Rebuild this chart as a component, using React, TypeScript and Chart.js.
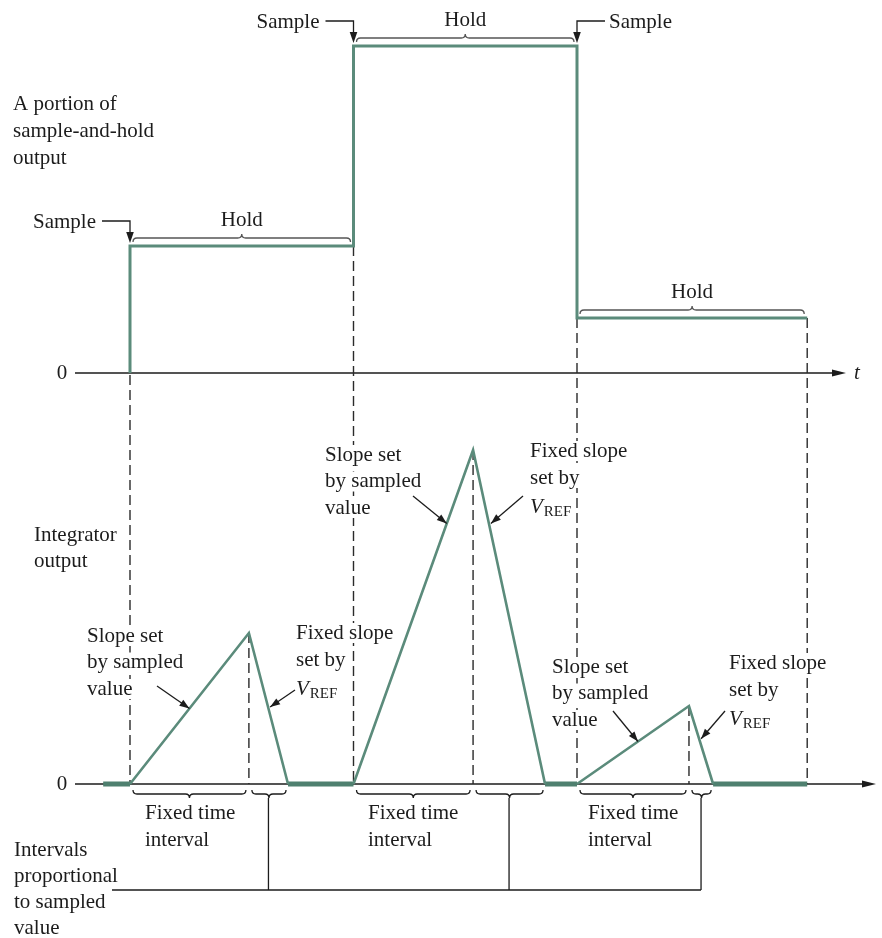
import React, { useEffect, useRef } from "react";
import { Chart, registerables } from "chart.js";

Chart.register(...registerables);

// ---------------- data (time in sample periods, voltages in volts) ----------------
const sampleTimes = [0, 1, 2];
const holdEndTime = 3.03;
const heldLevels = [1.27, 3.27, 0.55];
const integratorStart = -0.12;
const rampEndTimes = [0.532, 1.535, 2.501];
const integratorPeaks = [1.51, 3.34, 0.78];
const rundownEndTimes = [0.707, 1.857, 2.609];

// ---------------- layout (pixel anchors for the hidden scales) ----------------
const W = 882;
const H = 938;
const X0_PX = 130;
const PX_PER_T = 223.5;
const TOP_ZERO_PX = 373;
const BOT_ZERO_PX = 784;
const PX_PER_V = 100;

const X_MIN = -X0_PX / PX_PER_T;
const X_MAX = (W - X0_PX) / PX_PER_T;
const YT_MIN = (TOP_ZERO_PX - H) / PX_PER_V;
const YT_MAX = TOP_ZERO_PX / PX_PER_V;
const YB_MIN = (BOT_ZERO_PX - H) / PX_PER_V;
const YB_MAX = BOT_ZERO_PX / PX_PER_V;

const GREEN = "#5b8b7b";
const GREEN_DARK = "#4f806f";
const INK = "#1c1c1c";
const FONT = '"Liberation Serif", "Times New Roman", serif';
const FS = 21;

// ---------------- series built from the arrays ----------------
const shPoints: { x: number; y: number }[] = [{ x: sampleTimes[0], y: 0 }];
sampleTimes.forEach((t, i) => {
  const end = i + 1 < sampleTimes.length ? sampleTimes[i + 1] : holdEndTime;
  shPoints.push({ x: t, y: heldLevels[i] });
  shPoints.push({ x: end, y: heldLevels[i] });
});

const rampPoints: ({ x: number; y: number } | { x: number; y: null })[] = [];
sampleTimes.forEach((t, i) => {
  rampPoints.push({ x: t, y: 0 });
  rampPoints.push({ x: rampEndTimes[i], y: integratorPeaks[i] });
  rampPoints.push({ x: rundownEndTimes[i], y: 0 });
  rampPoints.push({ x: rundownEndTimes[i] + 0.001, y: null });
});

const zeroPoints: ({ x: number; y: number } | { x: number; y: null })[] = [
  { x: integratorStart, y: 0 },
  { x: sampleTimes[0], y: 0 },
  { x: sampleTimes[0] + 0.001, y: null },
];
rundownEndTimes.forEach((t, i) => {
  const end = i + 1 < sampleTimes.length ? sampleTimes[i + 1] : holdEndTime;
  zeroPoints.push({ x: t, y: 0 });
  zeroPoints.push({ x: end, y: 0 });
  zeroPoints.push({ x: end + 0.001, y: null });
});

// ---------------- drawing helpers ----------------
function arrowHead(ctx: CanvasRenderingContext2D, x1: number, y1: number, x2: number, y2: number, len = 10, wid = 3.6) {
  const a = Math.atan2(y2 - y1, x2 - x1);
  ctx.beginPath();
  ctx.moveTo(x2, y2);
  ctx.lineTo(x2 - len * Math.cos(a) + wid * Math.sin(a), y2 - len * Math.sin(a) - wid * Math.cos(a));
  ctx.lineTo(x2 - len * Math.cos(a) - wid * Math.sin(a), y2 - len * Math.sin(a) + wid * Math.cos(a));
  ctx.closePath();
  ctx.fill();
}

function arrow(ctx: CanvasRenderingContext2D, x1: number, y1: number, x2: number, y2: number) {
  ctx.beginPath();
  ctx.moveTo(x1, y1);
  ctx.lineTo(x2, y2);
  ctx.stroke();
  arrowHead(ctx, x1, y1, x2, y2);
}

function brace(ctx: CanvasRenderingContext2D, x1: number, x2: number, y: number, d: number, h = 4) {
  const xm = (x1 + x2) / 2;
  ctx.beginPath();
  ctx.moveTo(x1, y);
  ctx.quadraticCurveTo(x1, y + d * h, x1 + h, y + d * h);
  ctx.lineTo(xm - h, y + d * h);
  ctx.quadraticCurveTo(xm, y + d * h, xm, y + d * 2 * h);
  ctx.quadraticCurveTo(xm, y + d * h, xm + h, y + d * h);
  ctx.lineTo(x2 - h, y + d * h);
  ctx.quadraticCurveTo(x2, y + d * h, x2, y);
  ctx.stroke();
}

function textLines(ctx: CanvasRenderingContext2D, lines: string[], x: number, y0: number, dy: number, knock = false) {
  ctx.font = `${FS}px ${FONT}`;
  ctx.textAlign = "left";
  ctx.textBaseline = "middle";
  lines.forEach((s, i) => {
    const y = y0 + i * dy;
    if (knock) {
      const w = ctx.measureText(s).width;
      ctx.fillStyle = "#fff";
      ctx.fillRect(x - 2, y - 10, w + 4, 20);
    }
    ctx.fillStyle = INK;
    ctx.fillText(s, x, y);
  });
}

function vref(ctx: CanvasRenderingContext2D, x: number, y: number, knock = false) {
  ctx.textBaseline = "middle";
  ctx.textAlign = "left";
  ctx.font = `italic ${FS}px ${FONT}`;
  const wv = ctx.measureText("V").width;
  ctx.font = `${FS - 6}px ${FONT}`;
  const wr = ctx.measureText("REF").width;
  if (knock) {
    ctx.fillStyle = "#fff";
    ctx.fillRect(x - 2, y - 10, wv + wr + 6, 22);
  }
  ctx.fillStyle = INK;
  ctx.font = `italic ${FS}px ${FONT}`;
  ctx.fillText("V", x, y);
  ctx.font = `${FS - 6}px ${FONT}`;
  ctx.fillText("REF", x + wv + 1, y + 5);
}

function slopeLabel(ctx: CanvasRenderingContext2D, x: number, y: number) {
  textLines(ctx, ["Slope set", "by sampled", "value"], x, y, 26.5, true);
}

function fixedLabel(ctx: CanvasRenderingContext2D, x: number, y: number) {
  textLines(ctx, ["Fixed slope", "set by"], x, y, 27, true);
  vref(ctx, x, y + 56, true);
}

const annotPlugin = {
  id: "annot",
  beforeDatasetsDraw(chart: any) {
    const { ctx, scales } = chart;
    const X = (t: number) => scales.x.getPixelForValue(t);
    const YT = (v: number) => scales.yTop.getPixelForValue(v);
    const YB = (v: number) => scales.yBot.getPixelForValue(v);
    ctx.save();
    ctx.strokeStyle = INK;
    ctx.fillStyle = INK;
    ctx.lineWidth = 1.4;
    // axes
    const yt0 = YT(0);
    const yb0 = YB(0);
    ctx.beginPath();
    ctx.moveTo(75, yt0);
    ctx.lineTo(840, yt0);
    ctx.moveTo(75, yb0);
    ctx.lineTo(870, yb0);
    ctx.stroke();
    arrowHead(ctx, 800, yt0, 846, yt0, 14, 3.5);
    arrowHead(ctx, 800, yb0, 876, yb0, 14, 3.5);
    // dashed projection lines
    ctx.setLineDash([10, 5]);
    ctx.lineWidth = 1.4;
    ctx.strokeStyle = "#2a2a2a";
    const vDash = (x: number, y1: number, y2: number) => {
      ctx.beginPath();
      ctx.moveTo(x, y1);
      ctx.lineTo(x, y2);
      ctx.stroke();
    };
    vDash(X(sampleTimes[0]), yt0 + 2, yb0);
    vDash(X(sampleTimes[1]), YT(heldLevels[0]), yb0);
    vDash(X(sampleTimes[2]), YT(heldLevels[2]), yb0);
    vDash(X(holdEndTime), YT(heldLevels[2]), yb0);
    rampEndTimes.forEach((t, i) => vDash(X(t), YB(integratorPeaks[i]), yb0));
    ctx.setLineDash([]);
    ctx.restore();
  },
  afterDatasetsDraw(chart: any) {
    const { ctx, scales } = chart;
    const X = (t: number) => scales.x.getPixelForValue(t);
    const YT = (v: number) => scales.yTop.getPixelForValue(v);
    const YB = (v: number) => scales.yBot.getPixelForValue(v);
    ctx.save();
    ctx.lineWidth = 1.3;
    ctx.strokeStyle = INK;
    ctx.fillStyle = INK;
    const yt0 = YT(0);
    const yb0 = YB(0);

    // axis labels
    ctx.font = `${FS}px ${FONT}`;
    ctx.textBaseline = "middle";
    ctx.textAlign = "center";
    ctx.fillText("0", 62, yt0);
    ctx.fillText("0", 62, yb0);
    ctx.font = `italic ${FS}px ${FONT}`;
    ctx.fillText("t", 857, yt0);

    // left captions
    textLines(ctx, ["A portion of", "sample-and-hold", "output"], 13, 104, 27);
    textLines(ctx, ["Integrator", "output"], 34, 535, 26);
    textLines(ctx, ["Intervals", "proportional", "to sampled", "value"], 14, 850, 26);

    // hold braces and labels
    ctx.strokeStyle = "#555";
    sampleTimes.forEach((t, i) => {
      const end = i + 1 < sampleTimes.length ? sampleTimes[i + 1] : holdEndTime;
      const y = YT(heldLevels[i]);
      brace(ctx, X(t) + 3, X(end) - 3, y - 4, -1, 4);
      ctx.fillStyle = INK;
      ctx.font = `${FS}px ${FONT}`;
      ctx.textAlign = "center";
      ctx.textBaseline = "middle";
      ctx.fillText("Hold", (X(t) + X(end)) / 2, y - 26);
    });

    // sample pointers
    ctx.strokeStyle = INK;
    ctx.fillStyle = INK;
    sampleTimes.forEach((t, i) => {
      const top = i === 0 ? heldLevels[0] : Math.max(heldLevels[i], heldLevels[i - 1]);
      const yTip = YT(top) - 3;
      const yCorner = YT(top) - 25;
      const x = X(t);
      const onRight = i === sampleTimes.length - 1;
      const xEnd = onRight ? x + 28 : x - 28;
      ctx.beginPath();
      ctx.moveTo(xEnd, yCorner);
      ctx.lineTo(x, yCorner);
      ctx.lineTo(x, yTip - 6);
      ctx.stroke();
      arrowHead(ctx, x, yCorner, x, yTip, 11, 3.8);
      ctx.font = `${FS}px ${FONT}`;
      ctx.textBaseline = "middle";
      ctx.textAlign = onRight ? "left" : "right";
      ctx.fillText("Sample", onRight ? xEnd + 4 : xEnd - 6, yCorner + 1);
    });

    // fixed-time and proportional-interval braces
    ctx.strokeStyle = INK;
    const fixedTextX = [145, 368, 588];
    const tips: number[] = [];
    sampleTimes.forEach((t, i) => {
      brace(ctx, X(t) + 3, X(rampEndTimes[i]) - 3, yb0 + 6, 1, 4);
      brace(ctx, X(rampEndTimes[i]) + 3, X(rundownEndTimes[i]) - 2, yb0 + 6, 1, 4);
      tips.push((X(rampEndTimes[i]) + X(rundownEndTimes[i])) / 2);
      textLines(ctx, ["Fixed time", "interval"], fixedTextX[i], 813, 27);
    });
    ctx.strokeStyle = INK;
    ctx.lineWidth = 1.3;
    ctx.beginPath();
    tips.forEach((x) => {
      ctx.moveTo(x, yb0 + 14);
      ctx.lineTo(x, 890);
    });
    ctx.moveTo(112, 890);
    ctx.lineTo(tips[tips.length - 1], 890);
    ctx.stroke();

    // slope annotations
    slopeLabel(ctx, 87, 636);
    fixedLabel(ctx, 296, 633);
    slopeLabel(ctx, 325, 455);
    fixedLabel(ctx, 530, 451);
    slopeLabel(ctx, 552, 667);
    fixedLabel(ctx, 729, 663);

    const along = (x1: number, y1: number, x2: number, y2: number, f: number) => [x1 + (x2 - x1) * f, y1 + (y2 - y1) * f];
    ctx.strokeStyle = INK;
    ctx.fillStyle = INK;
    ctx.lineWidth = 1.3;
    const tailsRamp = [[157, 686], [413, 496], [613, 711]];
    const fracRamp = [0.5, 0.78, 0.545];
    const tailsDrop = [[295, 690], [523, 496], [725, 711]];
    const fracDrop = [0.49, 0.22, 0.42];
    sampleTimes.forEach((t, i) => {
      const [rx, ry] = along(X(t), yb0, X(rampEndTimes[i]), YB(integratorPeaks[i]), fracRamp[i]);
      arrow(ctx, tailsRamp[i][0], tailsRamp[i][1], rx, ry);
      const [dx, dy] = along(X(rampEndTimes[i]), YB(integratorPeaks[i]), X(rundownEndTimes[i]), yb0, fracDrop[i]);
      arrow(ctx, tailsDrop[i][0], tailsDrop[i][1], dx + 2, dy);
    });
    ctx.restore();
  },
};

export default function App() {
  const ref = useRef<HTMLCanvasElement>(null);
  useEffect(() => {
    const canvas = ref.current;
    if (!canvas) return;
    const chart = new Chart(canvas, {
      type: "scatter",
      data: {
        datasets: [
          {
            label: "Sample-and-hold output",
            data: shPoints,
            yAxisID: "yTop",
            showLine: true,
            borderColor: GREEN,
            borderWidth: 3,
            pointRadius: 0,
            borderJoinStyle: "miter",
          } as any,
          {
            label: "Integrator output",
            data: rampPoints,
            yAxisID: "yBot",
            showLine: true,
            spanGaps: false,
            borderColor: GREEN,
            borderWidth: 2.6,
            pointRadius: 0,
            borderJoinStyle: "miter",
          } as any,
          {
            label: "Integrator at zero",
            data: zeroPoints,
            yAxisID: "yBot",
            showLine: true,
            spanGaps: false,
            borderColor: GREEN_DARK,
            borderWidth: 5,
            pointRadius: 0,
          } as any,
        ],
      },
      options: {
        responsive: false,
        animation: false,
        events: [],
        layout: { padding: 0 },
        plugins: { legend: { display: false }, tooltip: { enabled: false } },
        scales: {
          x: { type: "linear", min: X_MIN, max: X_MAX, display: false },
          yTop: { type: "linear", min: YT_MIN, max: YT_MAX, display: false },
          yBot: { type: "linear", min: YB_MIN, max: YB_MAX, display: false },
        },
      } as any,
      plugins: [annotPlugin],
    });
    return () => chart.destroy();
  }, []);
  return (
    <div style={{ position: "absolute", left: 0, top: 0, width: W, height: H, background: "#fff" }}>
      <canvas ref={ref} width={W} height={H} style={{ display: "block", width: W, height: H }} />
    </div>
  );
}
